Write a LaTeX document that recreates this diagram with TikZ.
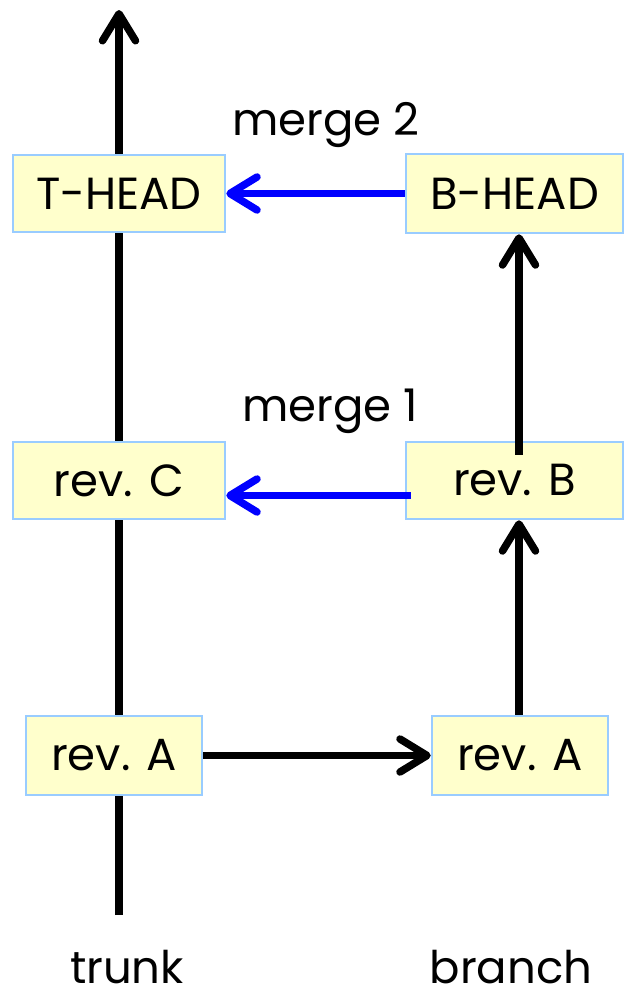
\documentclass[tikz,border=0pt]{standalone}
\usepackage{fontspec}
\setmainfont{Poppins}
\usetikzlibrary{arrows.meta,calc}
\definecolor{boxfill}{HTML}{FFFFCC}
\definecolor{boxline}{HTML}{99CCFF}
\begin{document}
\begin{tikzpicture}[x=1pt,y=-1pt,
  revbox/.style={draw=boxline,line width=2.5pt,fill=boxfill,rectangle,inner sep=0pt,
    font=\fontsize{45}{52}\selectfont},
  lbl/.style={font=\fontsize{45}{52}\selectfont,inner sep=0pt},
  blk/.style={line width=7.5pt,draw=black,-{Straight Barb[round,length=27pt,width=33pt]}},
  blu/.style={line width=7.5pt,draw=blue,-{Straight Barb[round,length=27pt,width=33pt]}}]
\useasboundingbox (0,0) rectangle (625,989);
\coordinate (tbot) at (119,915);
\coordinate (ttop) at (119,10);
\draw[blk] (tbot) -- (ttop);
\node[revbox,minimum width=212pt,minimum height=77pt] (thead) at (119,193.5) {T-HEAD};
\node[revbox,minimum width=217pt,minimum height=79pt] (bhead) at (514.5,193.5) {B-HEAD};
\node[revbox,minimum width=212pt,minimum height=77pt] (revc) at (119,480.5) {rev. C};
\node[revbox,minimum width=217pt,minimum height=77pt] (revb) at (514.5,480.5) {rev. B};
\node[revbox,minimum width=176pt,minimum height=79pt] (reva1) at (114,755.5) {rev. A};
\node[revbox,minimum width=176pt,minimum height=79pt] (reva2) at (520,755.5) {rev. A};
\node[lbl] (m2) at (326,125) {merge 2};
\node[lbl] (m1) at (330,411) {merge 1};
\node[lbl] (trunk) at (127,967) {trunk};
\node[lbl] (branch) at (511,967) {branch};
\draw[blk] (reva1.east) -- (reva2.west);
\draw[blk] (reva2.north -| 519,0) -- (revb.south -| 519,0);
\draw[blk] ([yshift=-14pt]revb.north -| 519,0) -- (bhead.south -| 519,0);
\draw[blu] (bhead.west) -- (thead.east);
\draw[blu] ([xshift=6pt,yshift=-15pt]revb.west) -- ([yshift=-15pt]revc.east);
\end{tikzpicture}
\end{document}
